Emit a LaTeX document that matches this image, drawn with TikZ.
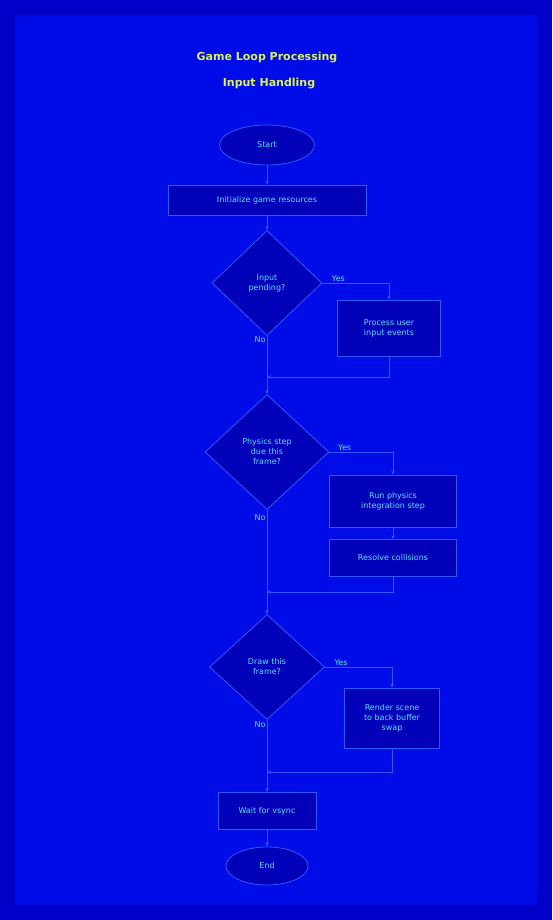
\documentclass[tikz,border=0pt]{standalone}
\usepackage{fontspec}
\setmainfont{DejaVu Sans}
\usetikzlibrary{shapes.geometric,arrows.meta}
\definecolor{bgout}{RGB}{0,0,200}
\definecolor{bgin}{RGB}{0,12,232}
\definecolor{nodefill}{RGB}{0,0,185}
\definecolor{edge}{RGB}{40,90,255}
\definecolor{txt}{RGB}{90,225,255}
\definecolor{ttl}{RGB}{220,240,90}
\tikzset{
  box/.style={draw=edge, fill=nodefill, line width=0.8pt, align=center, text=txt, font=\fontsize{8}{10}\selectfont, inner sep=2pt},
  rbox/.style={box, rectangle},
  oval/.style={box, ellipse},
  dia/.style={box, diamond, aspect=1},
  lbl/.style={text=txt, font=\fontsize{8}{10}\selectfont, inner sep=1pt},
  arr/.style={draw=edge, line width=0.8pt, -{Stealth[length=4pt,width=3.5pt]}},
  ln/.style={draw=edge, line width=0.8pt}
}
\begin{document}
\begin{tikzpicture}[x=1pt,y=-1pt]
\fill[bgout] (0,0) rectangle (552,920);
\fill[bgin] (15,15) rectangle (537,905);
\useasboundingbox (0,0) rectangle (552,920);

\node[text=ttl, font=\fontsize{11}{13}\selectfont\bfseries] (t1) at (267,58) {Game Loop Processing};
\node[text=ttl, font=\fontsize{11}{13}\selectfont\bfseries] (t2) at (269,84) {Input Handling};

\node[oval, minimum width=95pt, minimum height=40pt] (start) at (267,145) {Start};
\node[rbox, minimum width=198pt, minimum height=30pt] (init) at (267,200) {Initialize game resources};

\node[dia, minimum width=110pt, minimum height=105pt] (d1) at (267,283) {Input\\pending?};
\node[rbox, minimum width=103pt, minimum height=56pt] (b1) at (389,328) {Process user\\input events};
\coordinate (m1) at (267,377);

\node[dia, minimum width=124pt, minimum height=115pt] (d2) at (267,452) {Physics step\\due this\\frame?};
\node[rbox, minimum width=127pt, minimum height=52pt] (b2a) at (393,501) {Run physics\\integration step};
\node[rbox, minimum width=127pt, minimum height=37pt] (b2b) at (393,558) {Resolve collisions};
\coordinate (m2) at (267,592);

\node[dia, minimum width=115pt, minimum height=105pt] (d3) at (267,667) {Draw this\\frame?};
\node[rbox, minimum width=95pt, minimum height=60pt] (b3) at (392,718) {Render scene\\to back buffer\\swap};
\coordinate (m3) at (267,772);

\node[rbox, minimum width=98pt, minimum height=37pt] (fin) at (267,811) {Wait for vsync};
\node[oval, minimum width=82pt, minimum height=38pt] (end) at (267,866) {End};

% connectors
\draw[arr] (start) -- (init);
\draw[arr] (init) -- (d1);
\draw[arr] (d1.east) -| node[lbl, pos=0.12, above] {Yes} (b1.north);
\draw[ln] (d1.south) -- node[lbl, pos=0.1, left] {No} (m1);
\draw[arr] (b1.south) |- (m1);
\draw[arr] (m1) -- (d2.north);

\draw[arr] (d2.east) -| node[lbl, pos=0.12, above] {Yes} (b2a.north);
\draw[arr] (b2a) -- (b2b);
\draw[ln] (d2.south) -- node[lbl, pos=0.1, left] {No} (m2);
\draw[arr] (b2b.south) |- (m2);
\draw[arr] (m2) -- (d3.north);

\draw[arr] (d3.east) -| node[lbl, pos=0.12, above] {Yes} (b3.north);
\draw[ln] (d3.south) -- node[lbl, pos=0.1, left] {No} (m3);
\draw[arr] (b3.south) |- (m3);
\draw[arr] (m3) -- (fin);
\draw[arr] (fin) -- (end);
\end{tikzpicture}
\end{document}
